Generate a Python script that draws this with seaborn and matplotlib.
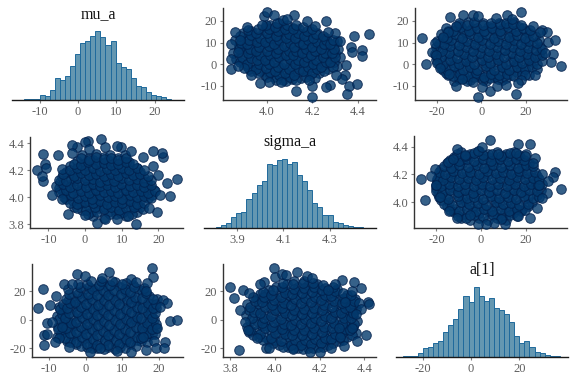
import matplotlib
matplotlib.use("Agg")
import matplotlib.pyplot as plt
import seaborn as sns

# ---------- histogram bar heights ----------
mu_a_counts = [1,2,4,4,16,12,30,65,60,71,102,137,170,177,192,207,188,164,176,111,98,92,65,43,38,23,15,12,8,2,1]
sigma_a_counts = [1,2,10,16,32,46,48,88,105,130,141,193,189,205,208,193,198,158,140,115,76,62,40,40,19,16,10,7,4,3,1]
a1_counts = [1,1,2,10,27,29,41,47,73,94,113,143,183,165,208,183,168,177,146,140,127,104,61,41,46,29,14,11,6,3,2]
mu_a_bin_start, mu_a_bin_width = -15.36, 1.324
sigma_a_bin_start, sigma_a_bin_width = 3.788, 0.0218
a1_bin_start, a1_bin_width = -28.3, 2.1

# ---------- dense central draws, shared by mirrored panels ----------
core_ms_mu = [2.3,5.1,8.4,11.2,
 -0.8,1.7,3.9,6.2,8.1,10.3,12.4,14.2,
 -3.1,-1.2,0.9,3.2,5.3,6.8,9.1,11.3,13.2,15.1,
 -5.2,-3.3,-0.9,1.1,2.8,5.2,7.3,9.2,10.9,13.1,15.2,17.1,
 -6.1,-4.2,-2.2,0.2,1.9,4.1,6.3,7.9,10.2,12.1,14.3,15.9,18.2,
 -7.1,-5.2,-2.9,-1.1,1.2,3.1,4.8,7.1,9.3,10.8,13.2,14.9,17.2,18.9,
 -6.8,-4.9,-3.1,-0.8,0.9,3.2,5.2,6.9,8.8,11.1,13.3,14.8,16.9,
 -6.2,-3.8,-2.1,0.3,2.2,3.9,6.1,8.2,9.9,12.2,14.1,16.2,
 -5.1,-3.2,-1.1,1.2,2.9,5.1,7.2,8.9,11.2,12.9,15.1,
 -4.1,-1.9,0.2,1.8,4.2,6.1,7.8,10.1,12.1,14.2,
 -2.2,0.1,2.1,3.9,6.2,7.9,10.2,12.1,
 -0.9,1.2,3.1,5.2,6.8,9.1,10.9,
 0.8,3.2,6.9,9.7,12.8,
 -2.1,0.2,2.8,5.1,7.2,9.3,11.2,13.3,15.8,
 -4.2,-2.1,0.1,2.1,4.2,6.1,8.1,10.2,12.2,14.2,16.1,
 -5.8,-3.8,-1.8,-0.1,2.0,4.1,6.2,8.2,10.1,12.2,14.2,16.2,18.1,
 -7.2,-5.1,-3.2,-1.2,1.1,3.1,5.2,7.1,9.1,11.2,13.1,15.2,17.1,19.2,
 -7.8,-6.1,-4.1,-2.1,0.2,2.2,4.1,6.1,8.2,9.9,12.2,14.1,16.1,18.1,
 -7.2,-5.1,-2.2,0.1,2.1,4.1,6.1,7.9,10.1,12.1,14.2,16.1,17.9,
 -5.9,-3.1,-1.1,1.1,3.1,5.1,7.1,9.1,11.1,13.1,15.1,17.2,
 -6.2,-4.1,-2.1,0.1,2.1,4.1,6.1,8.1,10.1,12.1,14.1,16.1,
 -3.1,-1.1,0.9,3.1,5.1,7.1,9.1,11.1,13.1,
 -1.2,1.1,3.1,5.1,7.1,9.1,11.1]
core_ms_sigma = [3.865,3.85,3.875,3.86,
 3.91,3.89,3.92,3.895,3.905,3.89,3.915,3.895,
 3.93,3.955,3.94,3.96,3.93,3.95,3.935,3.955,3.94,3.93,
 3.99,3.97,3.995,3.975,4.0,3.97,3.99,3.98,4.0,3.97,3.985,3.995,
 4.03,4.01,4.04,4.015,4.035,4.01,4.03,4.02,4.04,4.01,4.025,4.04,4.015,
 4.07,4.055,4.08,4.06,4.075,4.05,4.07,4.06,4.08,4.055,4.07,4.06,4.075,4.055,
 4.11,4.095,4.12,4.1,4.115,4.095,4.11,4.1,4.12,4.095,4.11,4.1,4.115,
 4.15,4.135,4.16,4.14,4.155,4.135,4.15,4.14,4.16,4.135,4.15,4.14,
 4.19,4.175,4.2,4.18,4.195,4.175,4.19,4.18,4.2,4.175,4.19,
 4.23,4.215,4.24,4.22,4.235,4.215,4.23,4.22,4.24,4.22,
 4.27,4.255,4.28,4.26,4.275,4.255,4.27,4.26,
 4.31,4.295,4.32,4.3,4.315,4.295,4.31,
 3.88,3.89,3.875,3.885,3.88,
 3.92,3.91,3.93,3.915,3.925,3.91,3.92,3.93,3.915,
 3.96,3.95,3.965,3.955,3.97,3.95,3.965,3.955,3.97,3.95,3.96,
 4.0,4.015,3.995,4.01,3.99,4.015,4.0,4.01,3.99,4.015,4.0,4.01,3.995,
 4.04,4.055,4.035,4.05,4.03,4.055,4.04,4.05,4.03,4.055,4.04,4.05,4.035,4.045,
 4.085,4.1,4.08,4.095,4.075,4.1,4.085,4.095,4.075,4.1,4.085,4.095,4.08,4.09,
 4.13,4.12,4.14,4.125,4.135,4.115,4.13,4.12,4.14,4.125,4.135,4.115,4.13,
 4.17,4.16,4.18,4.165,4.175,4.155,4.17,4.16,4.18,4.165,4.175,4.16,
 4.21,4.2,4.22,4.205,4.215,4.195,4.21,4.2,4.22,4.205,4.215,4.2,
 4.25,4.24,4.26,4.245,4.255,4.24,4.25,4.26,4.245,
 4.29,4.28,4.3,4.285,4.295,4.28,4.29]

core_ma_a1 = [-12.1,-8.3,-4.9,-1.2,2.3,5.8,9.1,
 -14.8,-11.2,-7.9,-4.1,-0.8,2.9,6.2,9.8,13.1,16.2,
 -17.2,-13.9,-10.2,-6.8,-3.1,0.2,3.8,7.1,10.9,14.2,17.8,21.1,
 -18.9,-15.1,-11.8,-8.2,-4.9,-1.2,2.1,5.9,9.2,12.8,16.1,19.8,23.2,
 -19.8,-16.2,-12.9,-9.1,-5.8,-2.2,1.1,4.8,8.1,11.9,15.2,18.9,22.1,25.8,
 -19.2,-15.8,-12.1,-8.9,-5.1,-1.8,1.9,5.2,8.8,12.2,15.9,19.1,22.8,26.2,
 -18.8,-15.1,-11.9,-8.1,-4.8,-1.1,2.2,5.9,9.1,12.8,16.1,19.9,23.1,25.9,
 -17.1,-13.9,-10.1,-6.9,-3.2,0.1,3.9,7.2,10.8,14.1,17.9,21.2,24.1,
 -14.9,-11.2,-7.8,-4.1,-0.9,2.8,6.1,9.9,13.2,16.8,20.1,
 -9.8,-6.1,-2.9,0.8,4.2,7.9,11.1,14.8,
 -10.2,-6.5,-3.1,0.6,4.1,7.5,11.2,
 -15.9,-12.8,-9.5,-6.1,-2.4,1.1,4.5,8.1,11.5,14.8,18.2,21.2,
 -18.1,-15.5,-12.2,-8.4,-5.1,-1.8,2.0,5.5,9.2,12.4,16.0,19.4,22.8,25.1,
 -20.1,-17.2,-13.8,-10.1,-6.8,-3.2,0.4,3.9,7.5,11.0,14.5,18.1,21.5,24.9,27.2,
 -20.8,-17.9,-14.5,-10.9,-7.6,-4.0,-0.6,3.2,6.5,10.2,13.6,17.1,20.5,24.0,27.4,
 -20.2,-17.5,-13.9,-10.5,-7.0,-3.5,0.1,3.5,7.0,10.5,14.1,17.5,21.0,24.4,27.1,
 -19.9,-16.9,-13.5,-10.0,-6.5,-3.0,0.5,4.0,7.5,11.0,14.5,18.0,21.5,25.0,
 -18.2,-15.4,-12.0,-8.6,-5.1,-1.6,2.0,5.5,9.0,12.5,16.0,19.5,23.1,
 -15.8,-12.6,-9.1,-5.6,-2.1,1.4,4.9,8.4,11.9,15.4,18.9,21.9,
 -10.1,-6.5,-3.1,0.9,4.5,8.2,11.2,14.3]
core_ma_mu = [-7.9,-6.2,-7.5,-5.8,-7.8,-6.1,-7.2,
 -5.2,-3.9,-5.6,-3.4,-5.1,-3.6,-5.4,-3.2,-4.9,-3.8,
 -2.8,-1.1,-2.4,-0.6,-2.9,-0.8,-2.2,-0.4,-2.7,-1.2,-2.1,-0.7,
 0.2,1.8,0.4,2.1,0.1,1.9,0.6,2.3,0.3,1.7,0.5,2.2,0.8,
 3.1,4.9,3.4,5.2,3.2,4.8,3.6,5.1,3.3,4.7,3.5,5.3,3.1,4.6,
 6.2,8.1,6.4,7.8,6.1,8.3,6.6,7.9,6.3,8.2,6.5,7.7,6.2,8.0,
 9.3,11.1,9.6,10.8,9.2,11.3,9.7,10.9,9.4,11.2,9.5,10.7,9.3,11.0,
 12.2,13.9,12.5,14.2,12.1,13.8,12.6,14.1,12.3,13.7,12.4,14.3,12.8,
 15.2,17.1,15.4,16.8,15.1,17.2,15.6,16.9,15.3,17.3,15.5,
 18.1,19.3,17.9,18.8,17.8,19.1,18.2,19.4,
 -6.8,-7.6,-6.1,-7.4,-6.4,-7.0,-6.3,
 -4.2,-5.6,-4.4,-5.3,-4.1,-5.7,-4.5,-5.2,-4.3,-5.5,-4.6,-5.0,
 -1.2,-2.7,-1.0,-2.6,-1.4,-2.8,-0.9,-2.5,-1.3,-2.9,-1.1,-2.4,-1.5,-2.2,
 1.8,0.2,2.0,0.1,1.7,0.3,1.9,0.4,2.1,0.0,1.6,0.5,1.8,0.2,1.3,
 4.9,3.1,5.2,3.0,4.7,3.4,5.1,3.2,4.8,3.3,5.0,3.1,4.6,3.5,4.2,
 7.9,6.1,8.2,6.0,7.7,6.3,8.1,6.2,7.8,6.4,8.0,6.1,7.6,6.5,7.2,
 10.8,9.2,11.1,9.0,10.7,9.3,11.0,9.4,10.9,9.1,11.2,9.5,10.6,9.9,
 13.8,12.1,14.1,12.2,13.7,12.4,14.0,12.3,13.9,12.5,13.6,12.2,13.1,
 16.8,15.1,17.0,15.3,16.7,15.2,16.9,15.4,17.1,15.5,16.6,15.8,
 19.0,18.1,19.3,18.0,18.9,18.3,19.2,18.4]

core_sa_a1 = [-8.8,-4.9,-1.1,3.2,7.1,11.2,
 -12.2,-8.1,-4.2,-0.8,3.1,6.9,10.8,14.2,17.9,
 -15.1,-11.8,-7.9,-4.1,-0.2,3.8,7.2,11.1,14.9,18.2,21.1,
 -17.9,-14.2,-10.1,-6.8,-2.9,0.9,4.8,8.2,11.8,15.1,19.2,22.8,
 -19.2,-15.8,-12.1,-8.2,-4.9,-1.2,2.8,6.1,10.1,13.9,17.2,21.1,24.8,
 -20.1,-16.8,-13.2,-9.1,-5.8,-2.1,1.9,5.2,8.9,12.8,16.1,19.8,23.2,26.9,
 -19.8,-16.1,-12.2,-8.8,-4.9,-1.1,2.2,6.1,9.8,13.1,17.2,20.9,24.1,27.1,
 -18.9,-15.2,-11.8,-8.1,-4.2,-0.9,3.1,6.8,10.9,14.2,17.9,21.2,24.8,
 -17.8,-14.1,-10.2,-6.9,-3.1,0.8,4.1,8.2,11.9,15.1,18.8,22.1,
 -15.2,-11.9,-8.1,-3.8,-0.2,3.8,7.1,10.9,14.8,18.1,21.2,
 -12.1,-8.2,-4.9,-1.1,2.9,6.2,10.1,13.9,17.2,
 -9.2,-5.1,-0.9,3.1,7.2,11.1,14.8,
 -10.5,-6.9,-3.0,1.0,5.1,9.2,13.1,16.0,
 -13.9,-10.0,-6.1,-2.5,1.2,5.0,9.0,12.5,16.1,19.5,
 -16.5,-13.0,-9.0,-5.4,-1.5,2.4,6.5,10.0,13.5,17.1,20.9,
 -18.8,-15.0,-10.2,-6.5,-3.0,0.8,4.5,8.2,12.0,15.6,19.0,23.0,26.0,
 -20.0,-17.5,-14.0,-10.5,-7.0,-3.5,0.1,3.5,7.0,10.5,14.5,18.0,21.5,25.0,
 -20.3,-18.0,-14.5,-10.5,-7.0,-3.0,0.2,4.0,7.5,11.5,15.0,19.0,22.5,25.5,
 -19.5,-17.0,-13.5,-10.0,-6.0,-2.5,1.0,5.0,8.5,12.5,16.0,19.5,23.0,26.0,
 -19.0,-16.0,-12.5,-8.5,-5.0,-1.0,2.5,6.5,10.0,13.5,17.0,20.5,24.0,
 -16.5,-13.5,-10.0,-6.0,-2.0,1.5,5.5,9.0,13.0,16.5,20.0,23.0,
 -14.0,-10.0,-6.5,-3.0,1.0,4.5,8.5,12.0,15.5,19.0,
 -11.0,-7.0,-3.0,1.0,5.0,9.0,13.0,17.0,20.0]
core_sa_sigma = [3.885,3.875,3.89,3.87,3.885,3.875,
 3.93,3.915,3.94,3.92,3.935,3.915,3.93,3.92,3.935,
 3.975,3.955,3.98,3.96,3.975,3.955,3.98,3.96,3.97,3.955,3.975,
 4.02,4.0,4.025,4.005,4.02,4.0,4.025,4.005,4.02,4.0,4.025,4.005,
 4.06,4.045,4.065,4.04,4.06,4.045,4.065,4.04,4.06,4.045,4.065,4.04,4.055,
 4.105,4.085,4.11,4.09,4.105,4.085,4.11,4.09,4.105,4.085,4.11,4.09,4.105,4.085,
 4.15,4.13,4.155,4.135,4.15,4.13,4.155,4.135,4.15,4.13,4.155,4.135,4.15,4.13,
 4.195,4.175,4.2,4.18,4.195,4.175,4.2,4.18,4.195,4.175,4.2,4.18,4.19,
 4.24,4.22,4.245,4.225,4.24,4.22,4.245,4.225,4.24,4.22,4.245,4.225,
 4.285,4.265,4.29,4.27,4.285,4.265,4.29,4.27,4.285,4.265,4.28,
 4.325,4.31,4.33,4.315,4.325,4.31,4.33,4.315,4.325,
 4.365,4.35,4.37,4.35,4.365,4.35,4.36,
 3.90,3.89,3.91,3.895,3.905,3.89,3.91,3.9,
 3.945,3.935,3.955,3.94,3.95,3.935,3.955,3.94,3.95,3.945,
 3.99,3.98,4.0,3.985,3.995,3.98,4.0,3.985,3.995,3.98,3.99,
 4.035,4.025,4.045,4.03,4.04,4.025,4.045,4.03,4.04,4.025,4.045,4.03,4.035,
 4.08,4.07,4.09,4.075,4.085,4.07,4.09,4.075,4.085,4.07,4.09,4.075,4.085,4.08,
 4.125,4.115,4.135,4.12,4.13,4.115,4.135,4.12,4.13,4.115,4.135,4.12,4.13,4.125,
 4.17,4.16,4.18,4.165,4.175,4.16,4.18,4.165,4.175,4.16,4.18,4.165,4.175,4.17,
 4.215,4.205,4.225,4.21,4.22,4.205,4.225,4.21,4.22,4.205,4.225,4.21,4.215,
 4.26,4.25,4.27,4.255,4.265,4.25,4.27,4.255,4.265,4.25,4.27,4.26,
 4.305,4.295,4.315,4.3,4.31,4.295,4.315,4.3,4.31,4.305,
 4.345,4.335,4.355,4.34,4.35,4.335,4.355,4.34,4.345]

# ---------- outlying draws seen in each panel ----------
p01_x = [3.84,3.84,3.84,3.86,3.91,3.985,4.0,4.03,4.12,4.175,4.26,4.21,4.385,4.45,4.42,4.42,4.37,4.375,4.35,4.32,4.3,4.27,4.345,4.33,4.305,4.36,4.395,4.355,4.28,4.26,4.2,4.2,4.13,4.185,4.06,4.01,3.97,3.93,3.9,3.87,3.87,3.88,3.98,4.07,4.09]
p01_y = [-2.3,2.5,9.2,14.8,17,22,24,22.8,22.8,20,19.7,17.4,13,14,6.6,4,7.8,5.8,-0.3,10.5,14.3,15,-5,-6.8,-5,-10,-9,-13.8,-9.8,-10.6,-15,-10,-12.5,-7.2,-8,-8,-8.8,-5,-1.8,-1,5.8,11,18,20.5,21]

p02_x = [-26.6,-24.8,-22,-20.7,-20.3,-20,-18.5,-14,-8,-3.6,-1.3,-11.5,-15,-17,6.6,11.5,17.6,13.6,18,23,27,29.3,29.7,33,32,31.3,35.7,28.5,26.3,24,19.6,15.5,18,16.6,3.9,-1.5,0.1,7.2,11,-11.3,-8.5,-14.3,-3.6]
p02_y = [12.2,0,5.8,9.7,4.3,0.5,-1.8,21.7,22.5,22.8,22,17.7,15,12.5,21.2,22.6,24,20.8,18,17.7,15.8,14.8,10.3,11.2,4.8,1,-0.6,5,15,-5,-5,-13.8,-7.2,-8.8,-12.5,-15,-10.3,-10,-9.5,-10,-7,-4.5,-8]

p10_x = [-13,-11.5,-11.4,-8.9,-4.7,3.2,13.9,19.5,23.2,25,22.3,21.3,20.9,18.5,15.9,12.5,9.8,8.8,5.5,4.3,0.9,0,1.2,-2.3,-3.6,-3.6,-7.3,-10.9,-10.6,-11.8,-6.4,0,8.6,5.5,11.8,17.3,20.5,18.6,20]
p10_y = [4.2,4.32,4.12,4.02,3.88,3.81,3.8,3.89,4.01,4.135,4.105,4.3,4.33,4.34,4.3,4.34,4.375,4.38,4.37,4.43,4.42,4.41,4.355,4.37,4.39,4.325,4.31,4.25,4.215,4.16,3.99,3.87,3.84,3.84,3.865,3.92,4.02,4.23,4.165]

p12_x = [-27,-25,-20.7,-22.2,-10.6,-14.5,-14.8,-11,-7.3,-1.6,0.4,3.9,16.6,22,15.4,7.6,24,23.3,27,33,32,30,35.7,29.6,24.8,22,16.6,10.9,9.1,5.8,2.1,-1.3,-5,-18.5,-20,-12.5,19.5,26,27]
p12_y = [4.165,4.015,4.24,4.19,3.885,3.94,4.29,4.385,4.34,4.37,4.395,4.45,4.42,4.42,4.355,4.345,4.32,4.28,4.205,4.22,4.18,4.15,4.095,4.07,3.96,3.885,3.9,3.845,3.88,3.85,3.845,3.845,3.905,4.04,4.125,4.315,4.33,4.125,4.03]

p20_x = [-13,-11.6,-8.1,-5.9,-2.3,-0.2,6.3,4.5,12.5,13.7,18.2,18.3,16.8,16.6,21,22.3,23,24.9,19.4,18.7,21.6,19.1,21.4,16.4,12.3,8.6,1.2,-4.7,-7.3,-8.4,-11.5,-11.5,-10.6,-10.6,-9.7,-9.3,-6.5,3.9,15.7,20.3,-3.8]
p20_y = [8.1,21.2,16.7,24.7,32,30.5,33.5,29.5,28.8,26.5,36,30,26,20,13.7,11.4,-0.7,0,-6,-15,-15.3,-19.8,-19.5,-21,-22.8,-21.6,-22.3,-18.8,-13,-15.3,-18,-10.7,-10.2,-2.6,10.2,-1.4,-5,-20,-12,9,25.3]

p21_x = [3.8,3.815,3.84,3.855,3.845,3.865,3.88,3.995,4,4.03,4.05,4.1,4.145,4.165,4.3,4.27,4.24,4.355,4.385,4.415,4.42,4.375,4.385,4.365,4.345,4.37,4.41,4.31,4.25,4.2,4.155,4.08,3.96,3.975,3.92,3.95,3.935,3.885,4.315,4.285,4.29]
p21_y = [22.6,15.3,-21.4,20.7,6.7,-1.4,-7.2,36,30,32,31,33.5,30.5,29.5,28,25.3,20.7,26.5,21.9,12.5,11,11.4,7.4,3.7,-6,-15,-11,-18.4,-19.5,-22.8,-22.8,-20.5,-19.5,-20,-13,26.5,25.3,18.4,12.5,-6,-12]

# ---------- labels and ticks ----------
titles = ["mu_a", "sigma_a", "a[1]"]
mu_ticks = [-10, 0, 10, 20]
sigma_ticks_hist = [3.9, 4.1, 4.3]
sigma_ticks = [4.0, 4.2, 4.4]
sigma_ticks_wide = [3.8, 4.0, 4.2, 4.4]
a1_ticks = [-20, 0, 20]
mu_yticks = [-10, 0, 10, 20]

# ---------- style ----------
sns.set_theme(style="white", rc={"axes.facecolor": "white"})
plt.rcParams["font.family"] = ["Liberation Serif", "DejaVu Serif"]
FIG_W, FIG_H = 576, 384
LINE, TICK, LABEL = "#333333", "#7f7f7f", "#5f5f5f"
fig = plt.figure(figsize=(FIG_W / 100, FIG_H / 100), dpi=100, facecolor="white")


def make_axes(left, right, top, bottom):
    ax = fig.add_axes([left / FIG_W, 1 - bottom / FIG_H, (right - left) / FIG_W, (bottom - top) / FIG_H])
    sns.despine(ax=ax)
    ax.grid(False)
    ax.tick_params(axis="both", length=2.2, width=0.8, color=TICK, labelcolor=LABEL,
                   labelsize=9, pad=2, bottom=True, left=True)
    for side in ("left", "bottom"):
        ax.spines[side].set_color(LINE)
        ax.spines[side].set_linewidth(1.0)
    return ax


def scatter_panel(box, xs, ys, xlim, ylim, xticks, yticks, yfmt):
    ax = make_axes(*box)
    sns.scatterplot(x=xs, y=ys, ax=ax, s=48, color="#03396c", alpha=0.8,
                    edgecolor="#011f4b", linewidth=0.7, clip_on=False, legend=False, zorder=3)
    ax.set(xlim=xlim, ylim=ylim, xticks=xticks, yticks=yticks, xlabel="", ylabel="")
    ax.set_yticklabels([yfmt.format(v) for v in yticks])
    ax.set_xticklabels([f"{v:.1f}" if isinstance(v, float) else str(v) for v in xticks])
    return ax


def hist_panel(box, counts, start, width, xlim, xticks, title, title_y):
    ax = make_axes(*box)
    end = start + width * len(counts)
    centers = [start + width * (i + 0.5) for i in range(len(counts))]
    sns.histplot(x=centers, weights=counts, bins=len(counts), binrange=(start, end), ax=ax,
                 color="#6497b1", alpha=1.0, edgecolor="#1f6a9c", linewidth=0.7)
    left, right, top, bottom = box
    ax.set(xlim=xlim, ylim=(0, (bottom - top) * 3), xticks=xticks, xlabel="", ylabel="", yticks=[])
    ax.set_xticklabels([f"{v:.1f}" if isinstance(v, float) else str(v) for v in xticks])
    ax.spines["left"].set_visible(False)
    ax.spines["bottom"].set_color("#1a1a1a")
    ax.set_zorder(2)
    ax.text(0.5, (bottom - title_y) / (bottom - top), title, transform=ax.transAxes,
            ha="center", va="center", fontsize=11.5, color="#111111")
    return ax


# Row 1
hist_panel((12, 184, 8, 100), mu_a_counts, mu_a_bin_start, mu_a_bin_width, (-17.3, 27.7), mu_ticks, titles[0], 14.5)
scatter_panel((223, 376, 8, 100), core_ms_sigma + p01_x, core_ms_mu + p01_y, (3.806, 4.481), (-16.5, 25.9),
              [4.0, 4.2, 4.4], mu_yticks, "{:d}")
scatter_panel((415, 567, 8, 100), core_ma_a1 + p02_x, core_ma_mu + p02_y, (-29.7, 38.4), (-16.5, 25.9),
              a1_ticks, mu_yticks, "{:d}")

# Row 2
scatter_panel((30, 183, 137, 228), core_ms_mu + p10_x, core_ms_sigma + p10_y, (-15, 26.7), (3.773, 4.447),
              mu_ticks, sigma_ticks_wide, "{:.1f}")
hist_panel((204, 376, 137, 228), sigma_a_counts, sigma_a_bin_start, sigma_a_bin_width, (3.758, 4.498),
           sigma_ticks_hist, titles[1], 142.5)
scatter_panel((414, 567, 136, 228), core_sa_a1 + p12_x, core_sa_sigma + p12_y, (-30, 38.4), (3.815, 4.477),
              a1_ticks, sigma_ticks, "{:.1f}")

# Row 3
scatter_panel((31.7, 183, 264, 356.7), core_ma_mu + p20_x, core_ma_a1 + p20_y, (-14.8, 26.6), (-25.9, 39),
              mu_ticks, a1_ticks, "{:d}")
scatter_panel((223, 376, 264, 356.7), core_sa_sigma + p21_x, core_sa_a1 + p21_y, (3.767, 4.453), (-25.9, 39),
              sigma_ticks_wide, a1_ticks, "{:d}")
hist_panel((396, 567.7, 264, 356.7), a1_counts, a1_bin_start, a1_bin_width, (-31, 40), a1_ticks, titles[2], 270)

fig.savefig("out.png", dpi=100, facecolor="white")
